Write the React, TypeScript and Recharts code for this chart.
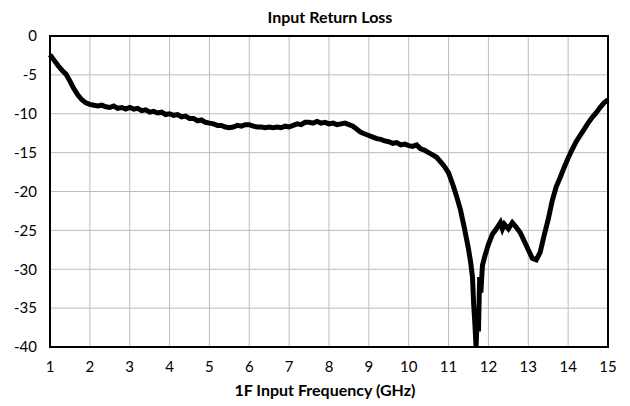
import React from 'react';
import {
  LineChart,
  Line,
  XAxis,
  YAxis,
  CartesianGrid,
  ReferenceArea
} from 'recharts';

// frequency points (GHz)
const freqs = [
  1.0, 1.1, 1.2, 1.3, 1.4, 1.5, 1.6, 1.7, 1.8, 1.9,
  2.0, 2.1, 2.2, 2.3, 2.4, 2.5, 2.6, 2.7, 2.8, 2.9,
  3.0, 3.1, 3.2, 3.3, 3.4, 3.5, 3.6, 3.7, 3.8, 3.9,
  4.0, 4.1, 4.2, 4.3, 4.4, 4.5, 4.6, 4.7, 4.8, 4.9,
  5.0, 5.1, 5.2, 5.3, 5.4, 5.5, 5.6, 5.7, 5.8, 5.9,
  6.0, 6.1, 6.2, 6.3, 6.4, 6.5, 6.6, 6.7, 6.8, 6.9,
  7.0, 7.1, 7.2, 7.3, 7.4, 7.5, 7.6, 7.7, 7.8, 7.9,
  8.0, 8.1, 8.2, 8.3, 8.4, 8.5, 8.6, 8.7, 8.8, 8.9,
  9.0, 9.1, 9.2, 9.3, 9.4, 9.5, 9.6, 9.7, 9.8, 9.9,
  10.0, 10.1, 10.2, 10.3, 10.4, 10.5, 10.6, 10.7, 10.8, 10.9,
  11.0, 11.1, 11.2, 11.3, 11.4, 11.5, 11.55, 11.6, 11.63, 11.66,
  11.69, 11.72, 11.75, 11.78, 11.81, 11.85, 11.9, 12.0, 12.1, 12.2,
  12.3, 12.35, 12.4, 12.5, 12.6, 12.7, 12.8, 12.9, 13.0, 13.1,
  13.2, 13.3, 13.4, 13.5, 13.6, 13.7, 13.8, 13.9, 14.0, 14.1,
  14.2, 14.3, 14.4, 14.5, 14.6, 14.7, 14.8, 14.9, 15.0
];

// input return loss (dB)
const returnLoss = [
  -2.4, -3.1, -3.8, -4.4, -4.9, -5.8, -6.8, -7.6, -8.2, -8.6,
  -8.8, -8.9, -9.0, -8.9, -9.1, -9.2, -9.0, -9.3, -9.2, -9.4,
  -9.2, -9.4, -9.3, -9.6, -9.5, -9.8, -9.7, -9.9, -9.8, -10.1,
  -10.0, -10.2, -10.1, -10.4, -10.3, -10.6, -10.6, -10.9, -10.8, -11.1,
  -11.2, -11.3, -11.5, -11.5, -11.7, -11.8, -11.7, -11.5, -11.6, -11.4,
  -11.4, -11.6, -11.7, -11.7, -11.8, -11.7, -11.8, -11.7, -11.8, -11.6,
  -11.7, -11.5, -11.3, -11.4, -11.1, -11.1, -11.2, -11.0, -11.2, -11.1,
  -11.3, -11.2, -11.4, -11.3, -11.2, -11.4, -11.6, -12.0, -12.4, -12.6,
  -12.8, -13.0, -13.2, -13.3, -13.5, -13.6, -13.8, -13.7, -14.0, -13.9,
  -14.1, -14.2, -14.0, -14.5, -14.7, -15.0, -15.3, -15.6, -16.2, -16.8,
  -17.6, -19.0, -20.6, -22.4, -24.8, -27.4, -29.0, -31.0, -34.5, -37.0,
  -40.0, -36.0, -38.0, -31.0, -33.0, -29.5, -28.5, -26.8, -25.5, -24.8,
  -24.0, -24.8, -24.2, -24.8, -24.0, -24.6, -25.3, -26.4, -27.5, -28.6,
  -28.8, -27.8, -25.6, -23.6, -21.2, -19.4, -18.2, -16.9, -15.7, -14.6,
  -13.6, -12.8, -12.0, -11.2, -10.5, -9.9, -9.2, -8.6, -8.2
];

const xTicks = [1, 2, 3, 4, 5, 6, 7, 8, 9, 10, 11, 12, 13, 14, 15];
const yTicks = [-40, -35, -30, -25, -20, -15, -10, -5, 0];

const data = freqs.map((f, i) => ({ f, rl: returnLoss[i] }));

const font = 'Lato, "Open Sans", sans-serif';

export default function App() {
  return (
    <div style={{ position: 'absolute', left: 0, top: 0, width: 630, height: 406, background: '#fff', fontFamily: font }}>
      <div style={{ position: 'absolute', left: 0, width: 660, top: 7, textAlign: 'center', fontWeight: 700, fontSize: 16 }}>
        Input Return Loss
      </div>
      <LineChart width={630} height={406} data={data} margin={{ top: 36, right: 22, left: 0, bottom: 0 }}>
        <CartesianGrid stroke="#bdbdbd" strokeWidth={1} />
        <XAxis
          dataKey="f"
          type="number"
          domain={[1, 15]}
          ticks={xTicks}
          tickLine={false}
          axisLine={false}
          tickMargin={8}
          height={59}
          tick={{ fill: '#000', fontSize: 15, fontFamily: font }}
        />
        <YAxis
          type="number"
          domain={[-40, 0]}
          ticks={yTicks}
          tickLine={false}
          axisLine={false}
          tickMargin={7}
          width={50}
          tick={{ fill: '#000', fontSize: 15, fontFamily: font }}
        />
        <ReferenceArea x1={1} x2={15} y1={-40} y2={0} fill="none" stroke="#000" strokeWidth={2} />
        <Line
          type="linear"
          dataKey="rl"
          stroke="#000"
          strokeWidth={5}
          dot={false}
          isAnimationActive={false}
        />
      </LineChart>
      <div style={{ position: 'absolute', left: 0, width: 650, top: 380, textAlign: 'center', fontWeight: 700, fontSize: 16 }}>
        1F Input Frequency (GHz)
      </div>
    </div>
  );
}
